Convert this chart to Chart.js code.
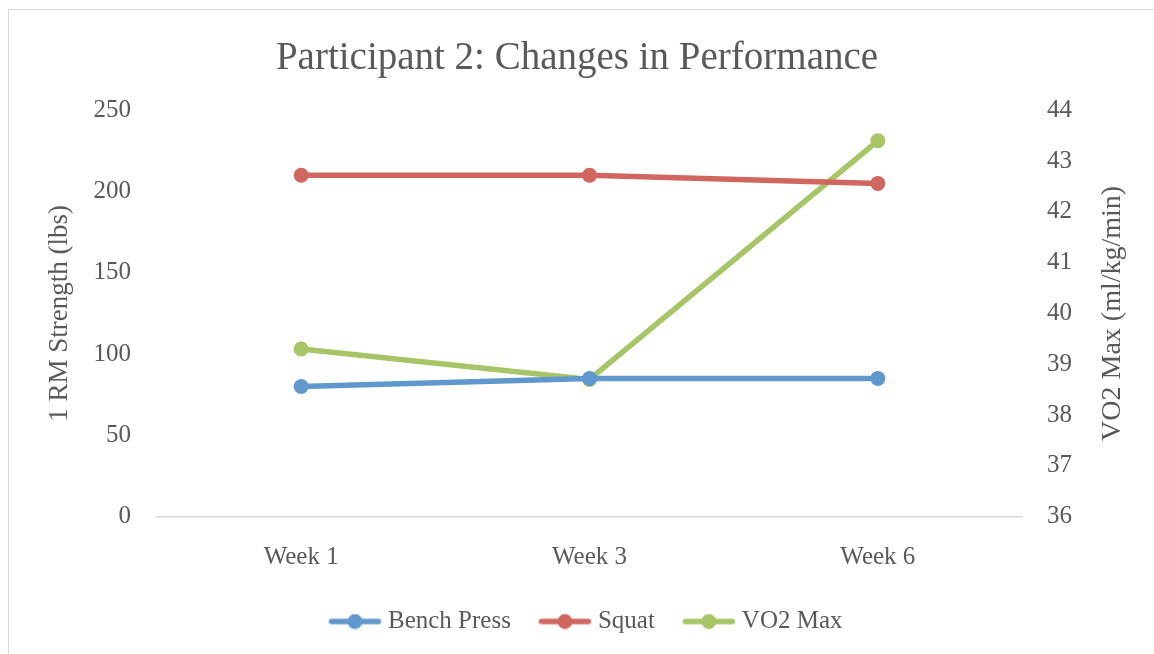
<!DOCTYPE html>
<html>
<head>
<meta charset="utf-8">
<script src="https://cdn.jsdelivr.net/npm/chart.js@4.4.1/dist/chart.umd.min.js"></script>
<style>
  html, body { margin: 0; padding: 0; background: #fff; }
  #wrap { position: absolute; left: 0; top: 0; width: 1154px; height: 654px; }
  #frame { position: absolute; left: 8px; top: 9px; width: 1200px; height: 700px; border: 1px solid #d9d9d9; box-sizing: border-box; }
</style>
</head>
<body>
<div id="wrap">
  <div id="frame"></div>
  <canvas id="c" width="1154" height="654"></canvas>
</div>
<script>
const titleText = 'Participant 2: Changes in Performance';
const categories = ['Week 1', 'Week 3', 'Week 6'];
const benchPress = [80, 85, 85];
const squat = [210, 210, 205];
const vo2Max = [39.3, 38.7, 43.4];
const leftAxisTitle = '1 RM Strength (lbs)';
const rightAxisTitle = 'VO2 Max (ml/kg/min)';

const BLUE = '#6097cc';
const RED = '#cf665f';
const GREEN = '#a7c467';
const TEXT = '#595959';
const FONT = "'Liberation Serif', 'Times New Roman', serif";

function legendMarker(color) {
  const cv = document.createElement('canvas');
  cv.width = 90; cv.height = 16;
  const ctx = cv.getContext('2d');
  ctx.strokeStyle = color;
  ctx.lineWidth = 5.5;
  ctx.lineCap = 'round';
  ctx.beginPath(); ctx.moveTo(33, 8); ctx.lineTo(80, 8); ctx.stroke();
  ctx.fillStyle = color;
  ctx.beginPath(); ctx.arc(56.5, 8, 7.5, 0, Math.PI * 2); ctx.fill();
  return cv;
}

const markers = [legendMarker(BLUE), legendMarker(RED), legendMarker(GREEN)];

const rightTitlePlugin = {
  id: 'rightTitle',
  afterDraw(chart) {
    const ctx = chart.ctx;
    const area = chart.chartArea;
    ctx.save();
    ctx.translate(1113, (area.top + area.bottom) / 2);
    ctx.rotate(-Math.PI / 2);
    ctx.fillStyle = TEXT;
    ctx.font = "28px " + FONT;
    ctx.textAlign = 'center';
    ctx.textBaseline = 'middle';
    ctx.fillText(rightAxisTitle, 0, 0);
    ctx.restore();
  }
};

Chart.defaults.font.family = FONT;
Chart.defaults.color = TEXT;

new Chart(document.getElementById('c'), {
  type: 'line',
  plugins: [rightTitlePlugin],
  data: {
    labels: categories,
    datasets: [
      { label: 'Bench Press', data: benchPress, yAxisID: 'y', borderColor: BLUE, backgroundColor: BLUE, borderWidth: 5.5, pointRadius: 7.5, pointHoverRadius: 7.5, pointBorderWidth: 0 },
      { label: 'Squat', data: squat, yAxisID: 'y', borderColor: RED, backgroundColor: RED, borderWidth: 5.5, pointRadius: 7.5, pointHoverRadius: 7.5, pointBorderWidth: 0 },
      { label: 'VO2 Max', data: vo2Max, yAxisID: 'y1', borderColor: GREEN, backgroundColor: GREEN, borderWidth: 5.5, pointRadius: 7.5, pointHoverRadius: 7.5, pointBorderWidth: 0 }
    ]
  },
  options: {
    responsive: false,
    animation: false,
    layout: { padding: { left: 0, right: 0, top: 20, bottom: 10 } },
    plugins: {
      title: {
        display: true,
        text: titleText,
        color: TEXT,
        font: { size: 39, weight: 'normal', family: FONT },
        padding: { top: 15, bottom: 28.5 }
      },
      legend: {
        position: 'bottom',
        labels: {
          usePointStyle: true,
          pointStyleWidth: 64,
          padding: 10.5,
          color: TEXT,
          font: { size: 25, family: FONT },
          generateLabels(chart) {
            return chart.data.datasets.map((ds, i) => ({
              text: ds.label,
              pointStyle: markers[i],
              fillStyle: ds.borderColor,
              strokeStyle: ds.borderColor,
              lineWidth: 0,
              hidden: false,
              datasetIndex: i,
              fontColor: TEXT
            }));
          }
        }
      },
      tooltip: { enabled: false }
    },
    scales: {
      x: {
        offset: true,
        grid: { display: false, drawTicks: false },
        border: { display: true, color: '#d9d9d9', width: 1.5 },
        ticks: { font: { size: 25 }, color: TEXT, padding: 26 }
      },
      y: {
        position: 'left',
        min: 0, max: 250,
        ticks: { stepSize: 50, font: { size: 25 }, color: TEXT, padding: 26 },
        grid: { display: false, drawTicks: false },
        border: { display: false },
        title: { display: true, text: leftAxisTitle, color: TEXT, font: { size: 27 }, padding: { top: 44, bottom: 10 } },
        afterFit(s) { s.width = 157; }
      },
      y1: {
        position: 'right',
        min: 36, max: 44,
        ticks: { stepSize: 1, font: { size: 25 }, color: TEXT, padding: 25 },
        grid: { display: false, drawTicks: false },
        border: { display: false },
        afterFit(s) { s.width = 132; }
      }
    }
  }
});
</script>
</body>
</html>
